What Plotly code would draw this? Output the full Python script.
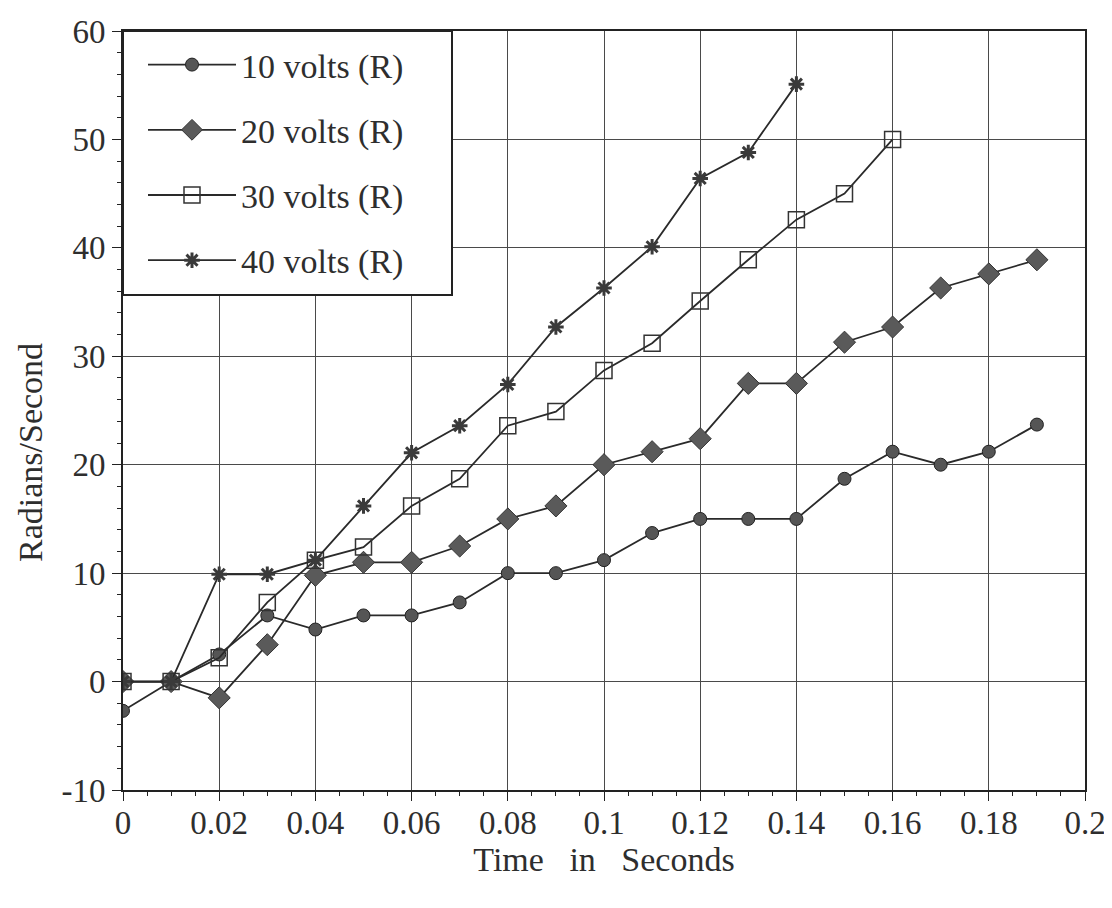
import plotly.graph_objects as go

time_s = [0, 0.01, 0.02, 0.03, 0.04, 0.05, 0.06, 0.07, 0.08, 0.09,
          0.10, 0.11, 0.12, 0.13, 0.14, 0.15, 0.16, 0.17, 0.18, 0.19]

v10 = [-2.7, 0, 2.5, 6.1, 4.8, 6.1, 6.1, 7.3, 10.0, 10.0,
       11.2, 13.7, 15.0, 15.0, 15.0, 18.7, 21.2, 20.0, 21.2, 23.7]
v20 = [0, 0, -1.5, 3.4, 9.8, 11.0, 11.0, 12.5, 15.0, 16.2,
       20.0, 21.2, 22.4, 27.5, 27.5, 31.3, 32.7, 36.3, 37.6, 38.9]
v30 = [0, 0, 2.2, 7.3, 11.2, 12.4, 16.2, 18.7, 23.6, 24.9,
       28.7, 31.2, 35.1, 38.9, 42.6, 45.0, 50.0]
v40 = [0, 0, 9.9, 9.9, 11.2, 16.2, 21.1, 23.6, 27.4, 32.7,
       36.3, 40.1, 46.4, 48.8, 55.1]

names = ["10 volts (R)", "20 volts (R)", "30 volts (R)", "40 volts (R)"]

x_ticks = [0, 0.02, 0.04, 0.06, 0.08, 0.1, 0.12, 0.14, 0.16, 0.18, 0.2]
x_labels = ["0", "0.02", "0.04", "0.06", "0.08", "0.1", "0.12", "0.14", "0.16", "0.18", "0.2"]
y_ticks = [-10, 0, 10, 20, 30, 40, 50, 60]
y_labels = ["-10", "0", "10", "20", "30", "40", "50", "60"]

FONT = "Liberation Serif, Times New Roman, serif"
TXT = "#2e2e2e"

fig = go.Figure()
series = [
    (v10, dict(symbol="circle", size=13, color="#555555", line=dict(color="#222222", width=1))),
    (v20, dict(symbol="diamond", size=17, color="#5a5a5a", line=dict(color="#333333", width=1))),
    (v30, dict(symbol="square-open", size=16, color="#333333", line=dict(color="#333333", width=1.5))),
    (v40, dict(symbol="asterisk-open", size=13, color="#3a3a3a", line=dict(color="#3a3a3a", width=3))),
]
for i, (vals, mk) in enumerate(series):
    fig.add_trace(go.Scatter(
        x=time_s[:len(vals)], y=vals, mode="lines+markers", name=names[i],
        line=dict(color="#2a2a2a", width=1.8), marker=mk,
        legendgroup="g%d" % i,
    ))

# legend frame (box around the legend area)
fig.add_shape(type="rect", xref="paper", yref="paper",
              x0=0, x1=(452 - 123) / 962, y0=(790 - 295) / 759, y1=1,
              fillcolor="white", line=dict(color="#222222", width=2), layer="above")

fig.add_annotation(text="Radians/Second", xref="paper", yref="paper",
                   x=(30 - 123) / 962, y=(790 - 453) / 759, textangle=-90,
                   showarrow=False, xanchor="center", yanchor="middle",
                   font=dict(family=FONT, size=34, color=TXT))

fig.update_layout(
    width=1112, height=908,
    margin=dict(l=115, r=35, t=23, b=126),
    paper_bgcolor="white", plot_bgcolor="white",
    font=dict(family=FONT, size=30, color=TXT),
    showlegend=True,
    legend=dict(
        x=(143 - 123) / 962, y=1 - 5 / 759, xanchor="left", yanchor="top",
        bgcolor="rgba(255,255,255,0)", borderwidth=0,
        font=dict(family=FONT, size=34, color=TXT),
        itemwidth=88, tracegroupgap=18,
        traceorder="grouped",
    ),
    xaxis=dict(
        range=[0, 0.2], tickvals=x_ticks, ticktext=x_labels,
        showgrid=True, gridcolor="#4a4a4a", gridwidth=1.2,
        showline=True, linecolor="#222222", linewidth=2, mirror=True,
        ticks="outside", ticklen=9, tickcolor="#222222",
        minor=dict(dtick=0.005, ticks="outside", ticklen=4, tickcolor="#222222", showgrid=False),
        zeroline=False,
        ticklabelstandoff=-7,
        title=dict(text="Time\u00a0\u00a0 in\u00a0\u00a0 Seconds", font=dict(family=FONT, size=34, color=TXT), standoff=0),
        tickfont=dict(family=FONT, size=33, color=TXT),
        automargin=False,
    ),
    yaxis=dict(
        range=[-10, 60], tickvals=y_ticks, ticktext=y_labels,
        showgrid=True, gridcolor="#4a4a4a", gridwidth=1.2,
        showline=True, linecolor="#222222", linewidth=2, mirror=True,
        ticks="outside", ticklen=9, tickcolor="#222222",
        minor=dict(dtick=2, ticks="outside", ticklen=4, tickcolor="#222222", showgrid=False),
        zeroline=False,
        tickfont=dict(family=FONT, size=33, color=TXT),
        automargin=False,
    ),
)

fig.write_html("out.html")
